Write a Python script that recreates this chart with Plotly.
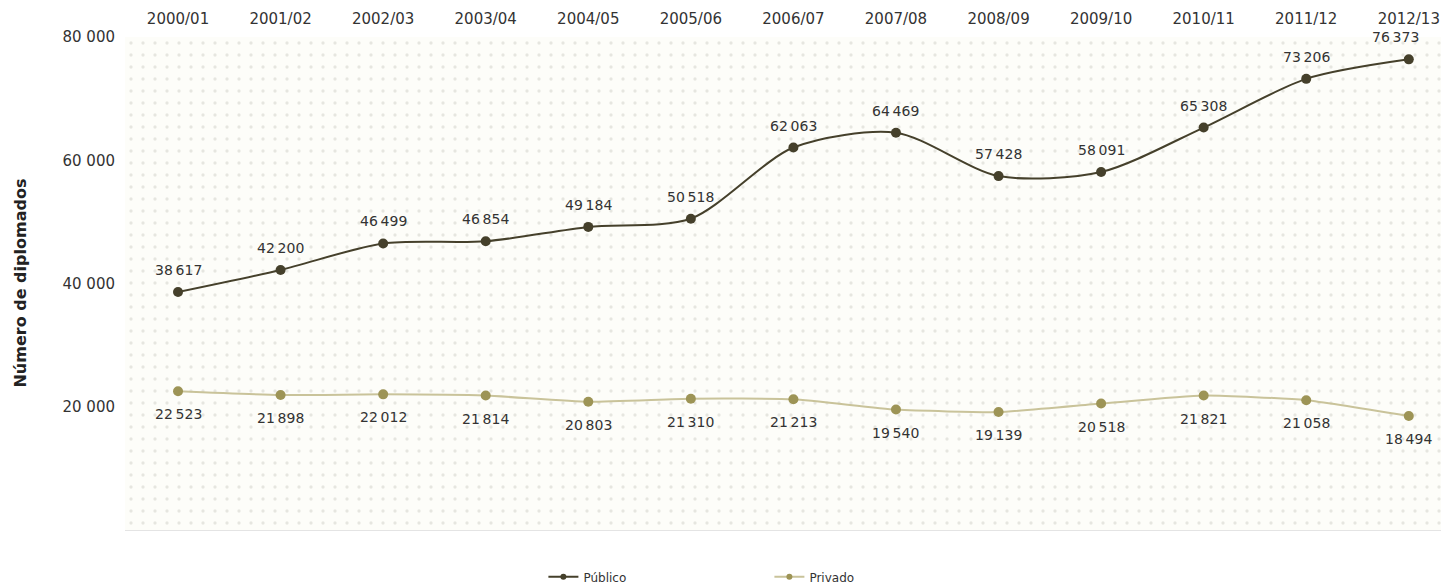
import plotly.graph_objects as go

years = ["2000/01","2001/02","2002/03","2003/04","2004/05","2005/06","2006/07",
         "2007/08","2008/09","2009/10","2010/11","2011/12","2012/13"]
publico = [38617,42200,46499,46854,49184,50518,62063,64469,57428,58091,65308,73206,76373]
privado = [22523,21898,22012,21814,20803,21310,21213,19540,19139,20518,21821,21058,18494]

def fmt(v):
    return f"{v:,}".replace(",", "\u202f")

xs = list(range(len(years)))
pub_col = "#45402b"
priv_line = "#c9c39a"
priv_mark = "#9d9456"
x_lo, x_hi = -0.517, 12.47

fig = go.Figure()
# dotted background decoration
fig.add_trace(go.Scatter(x=[x_lo, x_hi], y=[80000, 80000], fill="tozeroy", mode="none",
                         fillcolor="#fdfdf9",
                         fillpattern=dict(shape=".", fgcolor="#cfcfc8", bgcolor="#fdfdf9", size=12, solidity=0.06),
                         showlegend=False, hoverinfo="skip"))
fig.add_trace(go.Scatter(x=xs, y=publico, name="Público", mode="lines+markers",
                         line=dict(color=pub_col, width=2, shape="spline", smoothing=0.8),
                         marker=dict(size=10, color=pub_col), showlegend=False))
fig.add_trace(go.Scatter(x=xs, y=privado, name="Privado", mode="lines+markers",
                         line=dict(color=priv_line, width=2, shape="spline", smoothing=0.5),
                         marker=dict(size=10, color=priv_mark), showlegend=False))
# legend entries
fig.add_trace(go.Scatter(x=[None], y=[None], name="Público", mode="lines+markers",
                         line=dict(color=pub_col, width=2), marker=dict(size=6, color=pub_col)))
fig.add_trace(go.Scatter(x=[None], y=[None], name="Privado", mode="lines+markers",
                         line=dict(color=priv_line, width=2), marker=dict(size=6, color=priv_mark)))

annots = []
lab_font = dict(family="DejaVu Sans", size=14, color="#333333")
for i, v in enumerate(publico):
    annots.append(dict(x=xs[i], y=v, text=fmt(v), showarrow=False, yshift=22,
                       xshift=(-13 if i == len(xs) - 1 else 0), font=lab_font))
for i, v in enumerate(privado):
    annots.append(dict(x=xs[i], y=v, text=fmt(v), showarrow=False, yshift=-23, font=lab_font))
annots.append(dict(text="<b>Número de diplomados</b>", xref="paper", yref="paper",
                   x=-0.0788, y=0.5, textangle=-90, showarrow=False,
                   xanchor="center", yanchor="middle",
                   font=dict(size=16, color="#222222")))

fig.update_layout(
    width=1449, height=584,
    margin=dict(l=117, r=0, t=29, b=62),
    paper_bgcolor="white", plot_bgcolor="white",
    font=dict(family="DejaVu Sans", size=15, color="#333333"),
    legend=dict(orientation="h", xref="container", yref="container",
                x=0.3695, xanchor="left", y=0.026, yanchor="middle",
                font=dict(size=12, color="#333333"), entrywidth=181, itemwidth=30),
    xaxis=dict(side="top", range=[x_lo, x_hi], tickvals=xs, ticktext=years, automargin=False,
               showgrid=False, zeroline=False, showline=False, ticks="", ticklabelstandoff=9,
               tickfont=dict(size=15, color="#333333")),
    yaxis=dict(range=[0, 80000], tickvals=[20000, 40000, 60000, 80000], automargin=False,
               ticktext=["20 000", "40 000", "60 000", "80 000"],
               showgrid=True, gridcolor="#dedede", griddash="dot", gridwidth=1,
               zeroline=True, zerolinecolor="#e4e4e4", zerolinewidth=1,
               ticks="", ticklabelstandoff=9, tickfont=dict(size=15, color="#333333")),
    annotations=annots,
)
fig.write_html("out.html")
